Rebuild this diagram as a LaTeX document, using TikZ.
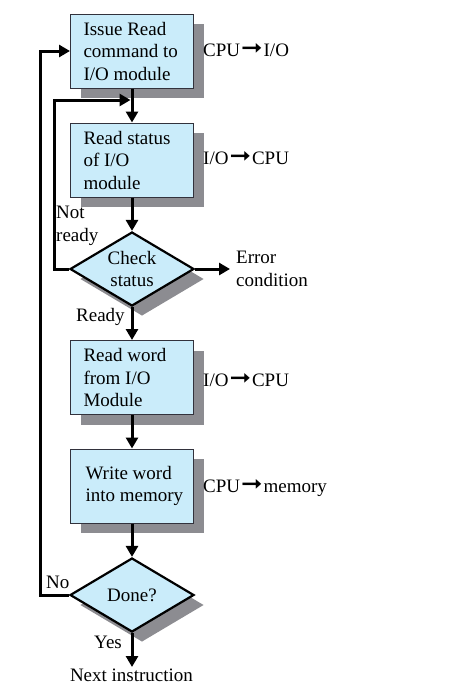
\documentclass[tikz,border=0pt]{standalone}
\usepackage{fontspec}
\setmainfont{Liberation Serif}
\newfontfamily\arrowfont{DejaVu Sans}
\usetikzlibrary{arrows.meta,shapes.geometric,shadows}
\definecolor{boxfill}{RGB}{202,236,250}
\definecolor{shadowgray}{RGB}{140,140,145}
\definecolor{boxline}{RGB}{50,50,60}
\newcommand{\ra}{\hspace{1pt}\raisebox{0.5pt}{\scalebox{1.35}[1.2]{\arrowfont\char"279E}}\hspace{1pt}}
\begin{document}
\begin{tikzpicture}[x=1pt,y=-1pt,
  font=\fontsize{19}{22.5}\selectfont,
  stepbox/.style={rectangle,draw=boxline,line width=1pt,fill=boxfill,
    minimum width=123pt,minimum height=74pt,inner xsep=0pt,inner ysep=0pt,
    align=flush left,text width=97pt,
    drop shadow={shadow xshift=10pt,shadow yshift=-10pt,fill=shadowgray,opacity=1}},
  decision/.style={diamond,draw=black,line width=2.2pt,fill=boxfill,
    minimum width=124pt,minimum height=74pt,inner sep=0pt,align=center,aspect=1.67,
    drop shadow={shadow xshift=10pt,shadow yshift=-10pt,fill=shadowgray,opacity=1}},
  flow/.style={line width=3pt,-{Triangle[width=12pt,length=11pt]}},
  lbl/.style={inner sep=0pt,anchor=west,align=left}]
\useasboundingbox (0,0) rectangle (450,689);

\node[stepbox] (b1) at (132,51) {Issue Read\\command to\\I/O module};
\node[stepbox] (b2) at (132,160) {Read status\\of I/O\\module};
\node[decision] (c1) at (132,269) {Check\\status};
\node[stepbox] (b3) at (132,377.5) {Read word\\from I/O\\Module};
\node[stepbox,text width=93pt] (b4) at (132,486) {Write word\\\mbox{into memory}};
\node[decision] (c2) at (132,595) {Done?};

\node[lbl] (l1) at (203,50) {CPU\ra I/O};
\node[lbl] (l2) at (203,158) {I/O\ra CPU};
\node[lbl] (l3) at (203,380) {I/O\ra CPU};
\node[lbl] (l4) at (203,488) {CPU\ra memory};
\node[lbl] (err) at (236,269) {Error\\condition};
\node[lbl] (nr) at (56,226) {Not\\ready};
\node[lbl] (rd) at (76,317) {Ready};
\node[lbl] (no) at (46,582) {No};
\node[lbl] (yes) at (94,642) {Yes};
\node[inner sep=0pt,anchor=north] (next) at (131.5,669) {Next instruction};

\coordinate (j1) at (132,100);
\coordinate (eend) at (230,269);
\coordinate (yend) at (132,667);

\draw[flow] (b1.south) -- (b2.north);
\draw[flow] (b2.south) -- (c1.north);
\draw[flow] (c1.south) -- (b3.north);
\draw[flow] (b3.south) -- (b4.north);
\draw[flow] (b4.south) -- (c2.north);
\draw[flow] (c1.east) -- (eend);
\draw[flow] (c2.south) -- (yend);
\draw[flow] (c1.west) -- (54,269) -- (54,100) -- ([xshift=-1.5pt]j1);
\draw[flow] (c2.west) -- (40,595) -- (40,51) -- (b1.west);
\end{tikzpicture}
\end{document}
